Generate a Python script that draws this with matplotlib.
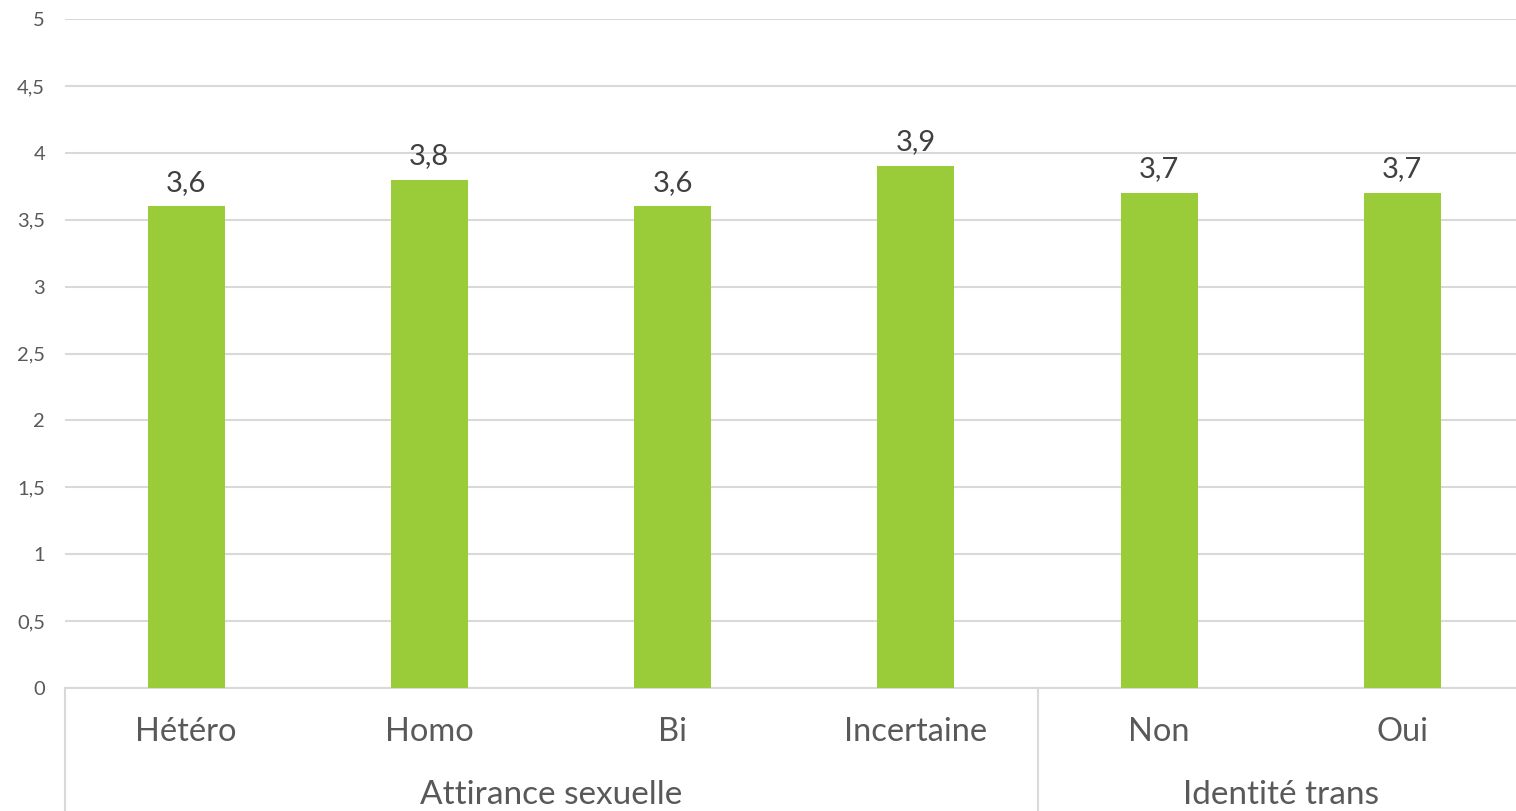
import matplotlib.pyplot as plt
import matplotlib.transforms as mtrans
import numpy as np

categories = ["Hétéro", "Homo", "Bi", "Incertaine", "Non", "Oui"]
values = [3.6, 3.8, 3.6, 3.9, 3.7, 3.7]
groups = ["Attirance sexuelle", "Identité trans"]
group_sizes = [4, 2]
yticks = [0, 0.5, 1, 1.5, 2, 2.5, 3, 3.5, 4, 4.5, 5]

plt.rcParams['font.family'] = ['Lato', 'DejaVu Sans']

fig = plt.figure(figsize=(15.16, 8.11), dpi=100)
ax = fig.add_axes([64.5 / 1516, (811 - 688) / 811, (1524 - 64.5) / 1516, (688 - 19) / 811])

x = np.arange(len(categories))
bars = ax.bar(x, values, width=0.317, color="#9ACB38", zorder=3)

ax.set_xlim(-0.5, len(categories) - 0.5)
ax.set_ylim(0, 5)
ax.set_yticks(yticks)
ax.set_yticklabels([("%g" % t).replace(".", ",") for t in yticks], fontsize=14.5, color="#595959")
ax.tick_params(axis="y", length=0, pad=14)
ax.grid(axis="y", color="#d9d9d9", linewidth=1.5, zorder=0)
for s in ["top", "right", "left"]:
    ax.spines[s].set_visible(False)
ax.spines["bottom"].set_color("#d9d9d9")
ax.spines["bottom"].set_linewidth(1.5)

ax.set_xticks(x)
ax.set_xticklabels(categories, fontsize=23.5, color="#595959")
ax.tick_params(axis="x", length=0, pad=21)

for b, v in zip(bars, values):
    ax.text(b.get_x() + b.get_width() / 2, v + 0.08, ("%.1f" % v).replace(".", ","),
            ha="center", va="bottom", fontsize=21, color="#404040")

# group labels and separators below the axis
tr = mtrans.blended_transform_factory(ax.transData, ax.transAxes)
start = -0.5
bottom = -(811 - 688) / (688 - 19)
ax.plot([start, start], [0, bottom], transform=tr, color="#d9d9d9", lw=1.5, clip_on=False)
for g, n in zip(groups, group_sizes):
    end = start + n
    ax.text((start + end) / 2, -(795 - 688) / (688 - 19), g, transform=tr, ha="center", va="center",
            fontsize=24, color="#595959")
    ax.plot([end, end], [0, bottom], transform=tr, color="#d9d9d9", lw=1.5, clip_on=False)
    start = end

fig.savefig("out.png", dpi=100)
